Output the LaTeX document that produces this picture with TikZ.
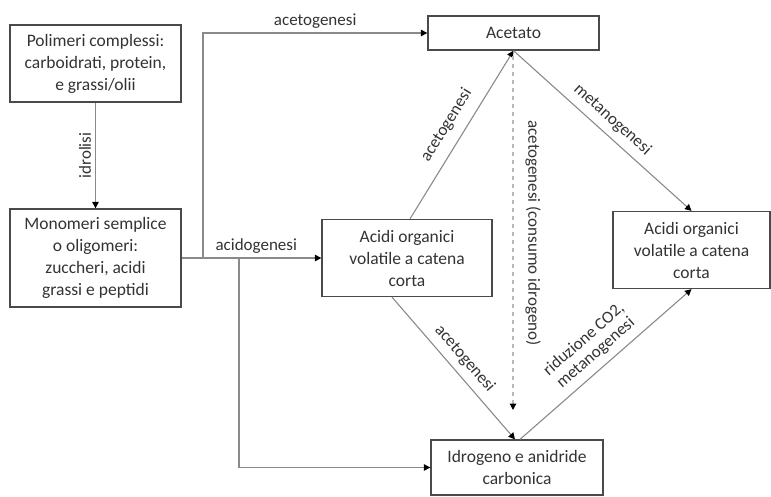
\documentclass[tikz,border=0pt]{standalone}
\usepackage{fontspec}
\setmainfont{Carlito}
\usetikzlibrary{arrows.meta}
\definecolor{txt}{HTML}{333333}
\definecolor{ln}{HTML}{8A8A8A}
\definecolor{bx}{HTML}{4A4A4A}
\begin{document}
\begin{tikzpicture}[x=1pt,y=-1pt,
  font=\fontsize{17.5}{22}\selectfont,
  every node/.style={text=txt},
  box/.style={draw=bx,line width=1.3pt,rectangle,align=center,inner sep=2pt},
  conn/.style={draw=ln,line width=1.1pt,-{Triangle[length=6.5pt,width=6.5pt,color=black]}},
  plain/.style={draw=ln,line width=1.1pt},
  lbl/.style={font=\fontsize{17}{18}\selectfont,inner sep=4pt}]
\useasboundingbox (0,0) rectangle (771,496);
\node[box,minimum width=171pt,minimum height=77pt] (p1) at (95.5,63.5) {Polimeri complessi:\\carboidrati, protein,\\e grassi/olii};
\node[box,minimum width=171pt,minimum height=98pt] (m) at (95.5,258) {Monomeri semplice\\o oligomeri:\\zuccheri, acidi\\grassi e peptidi};
\node[box,minimum width=171pt,minimum height=34pt] (ac) at (513.5,33) {Acetato};
\node[box,minimum width=170pt,minimum height=77pt] (am) at (407,258) {Acidi organici\\volatile a catena\\corta};
\node[box,minimum width=157pt,minimum height=77pt] (ar) at (691.5,250) {Acidi organici\\volatile a catena\\corta};
\node[box,minimum width=172pt,minimum height=55pt] (id) at (517,467.5) {Idrogeno e anidride\\carbonica};
\coordinate (j1) at (203,258);
\coordinate (j2) at (239,258);
\coordinate (d1) at (513,56);
\coordinate (d2) at (513,410);
\draw[conn] (p1.south) -- node[lbl,rotate=90,above] {idrolisi} (m.north);
\draw[plain] (m.east) -- (j1);
\draw[conn] (j1) |- node[lbl,pos=0.75,above] {acetogenesi} (ac.west);
\draw[conn] (j1) -- node[lbl,above,pos=0.45] {acidogenesi} (am.west);
\draw[conn] (j2) |- (id.west);
\draw[conn] ([xshift=3pt]am.north) -- node[lbl,sloped,above=6pt] {acetogenesi} (ac.south);
\draw[conn] (ac.south) -- node[lbl,sloped,above=3pt] {metanogenesi} (ar.north);
\draw[conn,draw=gray!55,dash pattern=on 4pt off 4pt] (d1) -- node[lbl,rotate=-90,above=8pt,pos=0.5] {acetogenesi (consumo idrogeno)} (d2);
\draw[conn] ([xshift=-15pt]am.south) -- node[lbl,sloped,above=3pt] {acetogenesi} ([xshift=-2pt]id.north);
\draw[conn] ([xshift=3pt]id.north) -- node[lbl,sloped,above=3pt,align=center,font=\fontsize{17}{18}\selectfont] {riduzione CO2,\\metanogenesi} (ar.south);
\end{tikzpicture}
\end{document}
